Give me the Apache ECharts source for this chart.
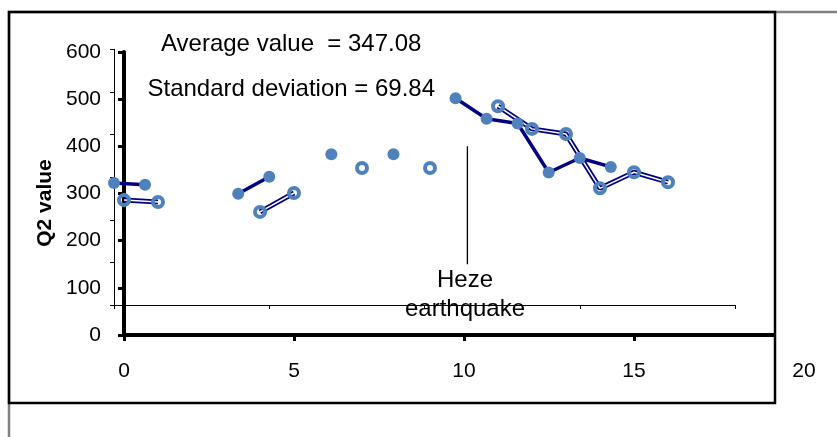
<!DOCTYPE html>
<html>
<head>
<meta charset="utf-8">
<script src="https://cdn.jsdelivr.net/npm/echarts@6/dist/echarts.min.js"></script>
<style>html,body{margin:0;padding:0;background:#fff;}#c{width:837px;height:437px;}</style>
</head>
<body>
<div id="c"></div>
<script>
// ---- data ----
const xValues = [0, 1, 2, 3, 4, 5, 6, 7, 8, 9, 10, 11, 12, 13, 14, 15, 16];
const q2Values = [286, 282, null, null, 261, 301, null, 354, null, 354, null, 485, 437, 426, 311, 345, 324];
const xTicks = [0, 5, 10, 15, 20];
const yTicks = [0, 100, 200, 300, 400, 500, 600];
const quakeX = 10.1;
const quakeY = [150, 400];
const avgText = 'Average value  = 347.08';
const sdText = 'Standard deviation = 69.84';
const quakeLabel = ['Heze', 'earthquake'];
const yTitle = 'Q2 value';

const FONT = "'Liberation Sans', Arial, sans-serif";
const pairs = xValues.map((x, i) => [x, q2Values[i] == null ? '-' : q2Values[i]]);

const chart = echarts.init(document.getElementById('c'), null, {renderer: 'canvas'});
chart.setOption({
  animation: false,
  backgroundColor: '#fff',
  grid: [
    {left: 124, top: 52, width: 680, height: 283},
    {left: 114, top: 49.3, width: 621, height: 255.7},
    {left: 124, top: 52, width: 650, height: 283}
  ],
  xAxis: [
    {gridIndex: 0, type: 'value', min: 0, max: 20, interval: 5,
     axisLine: {show: false},
     axisTick: {show: true, inside: false, length: 6, customValues: [0, 5, 10, 15], lineStyle: {color: '#000', width: 3}},
     axisLabel: {customValues: xTicks, margin: 26, color: '#000', fontSize: 21, fontFamily: FONT},
     splitLine: {show: false}},
    {gridIndex: 1, type: 'value', min: 0, max: 20, interval: 5,
     axisLine: {show: true, onZero: false, lineStyle: {color: '#000', width: 1}},
     axisTick: {show: true, inside: false, length: 4, lineStyle: {color: '#000', width: 1}},
     axisLabel: {show: false}, splitLine: {show: false}},
    {gridIndex: 2, type: 'value', min: 0, max: 1,
     axisLine: {show: true, onZero: false, lineStyle: {color: '#000', width: 4}},
     axisTick: {show: false}, axisLabel: {show: false}, splitLine: {show: false}}
  ],
  yAxis: [
    {gridIndex: 0, type: 'value', min: 0, max: 600, interval: 100,
     axisLine: {show: true, onZero: false, lineStyle: {color: '#000', width: 4}},
     axisTick: {show: true, inside: false, length: 6, lineStyle: {color: '#000', width: 3}},
     axisLabel: {customValues: yTicks, margin: 23, color: '#000', fontSize: 21, fontFamily: FONT},
     splitLine: {show: false}},
    {gridIndex: 1, type: 'value', min: 0, max: 600, interval: 100,
     axisLine: {show: true, onZero: false, lineStyle: {color: '#000', width: 1}},
     axisTick: {show: true, inside: false, length: 4, lineStyle: {color: '#000', width: 1}},
     axisLabel: {show: false}, splitLine: {show: false}},
    {gridIndex: 2, type: 'value', show: false, min: 0, max: 1}
  ],
  series: [
    {type: 'line', xAxisIndex: 0, yAxisIndex: 0, data: pairs, symbol: 'none',
     lineStyle: {color: '#000080', width: 5}, connectNulls: false, z: 2, silent: true},
    {type: 'line', xAxisIndex: 0, yAxisIndex: 0, data: pairs, symbol: 'circle', symbolSize: 10,
     showSymbol: true,
     lineStyle: {color: '#ffffff', width: 1.5},
     itemStyle: {color: 'rgba(0,0,0,0)', borderColor: '#4F81BD', borderWidth: 4},
     connectNulls: false, z: 3, silent: true},
    {type: 'line', xAxisIndex: 1, yAxisIndex: 1, data: pairs, symbol: 'circle', symbolSize: 12,
     lineStyle: {color: '#000080', width: 3.5},
     itemStyle: {color: '#4F81BD', borderWidth: 0},
     connectNulls: false, z: 4, silent: true},
    {type: 'line', xAxisIndex: 0, yAxisIndex: 0, data: [[quakeX, quakeY[0]], [quakeX, quakeY[1]]],
     symbol: 'none', lineStyle: {color: '#000', width: 1.3}, z: 2, silent: true}
  ],
  graphic: [
    {type: 'rect', z: -1, shape: {x: 9, y: 12, width: 900, height: 500}, style: {fill: 'none', stroke: '#808080', lineWidth: 2.5}},
    {type: 'rect', z: 0, shape: {x: 9, y: 12, width: 766, height: 391}, style: {fill: 'none', stroke: '#000', lineWidth: 2.5}},
    {type: 'text', x: 161, y: 44, style: {text: avgText, font: '24px ' + FONT, fill: '#000', align: 'left', verticalAlign: 'middle'}},
    {type: 'text', x: 147.5, y: 89, style: {text: sdText, font: '24px ' + FONT, fill: '#000', align: 'left', verticalAlign: 'middle'}},
    {type: 'text', x: 465, y: 280, style: {text: quakeLabel[0], font: '24px ' + FONT, fill: '#000', align: 'center', verticalAlign: 'middle'}},
    {type: 'text', x: 465, y: 309, style: {text: quakeLabel[1], font: '24px ' + FONT, fill: '#000', align: 'center', verticalAlign: 'middle'}},
    {type: 'text', x: 45, y: 203, rotation: Math.PI / 2, style: {text: yTitle, font: 'bold 21px ' + FONT, fill: '#000', align: 'center', verticalAlign: 'middle'}}
  ]
});
</script>
</body>
</html>
